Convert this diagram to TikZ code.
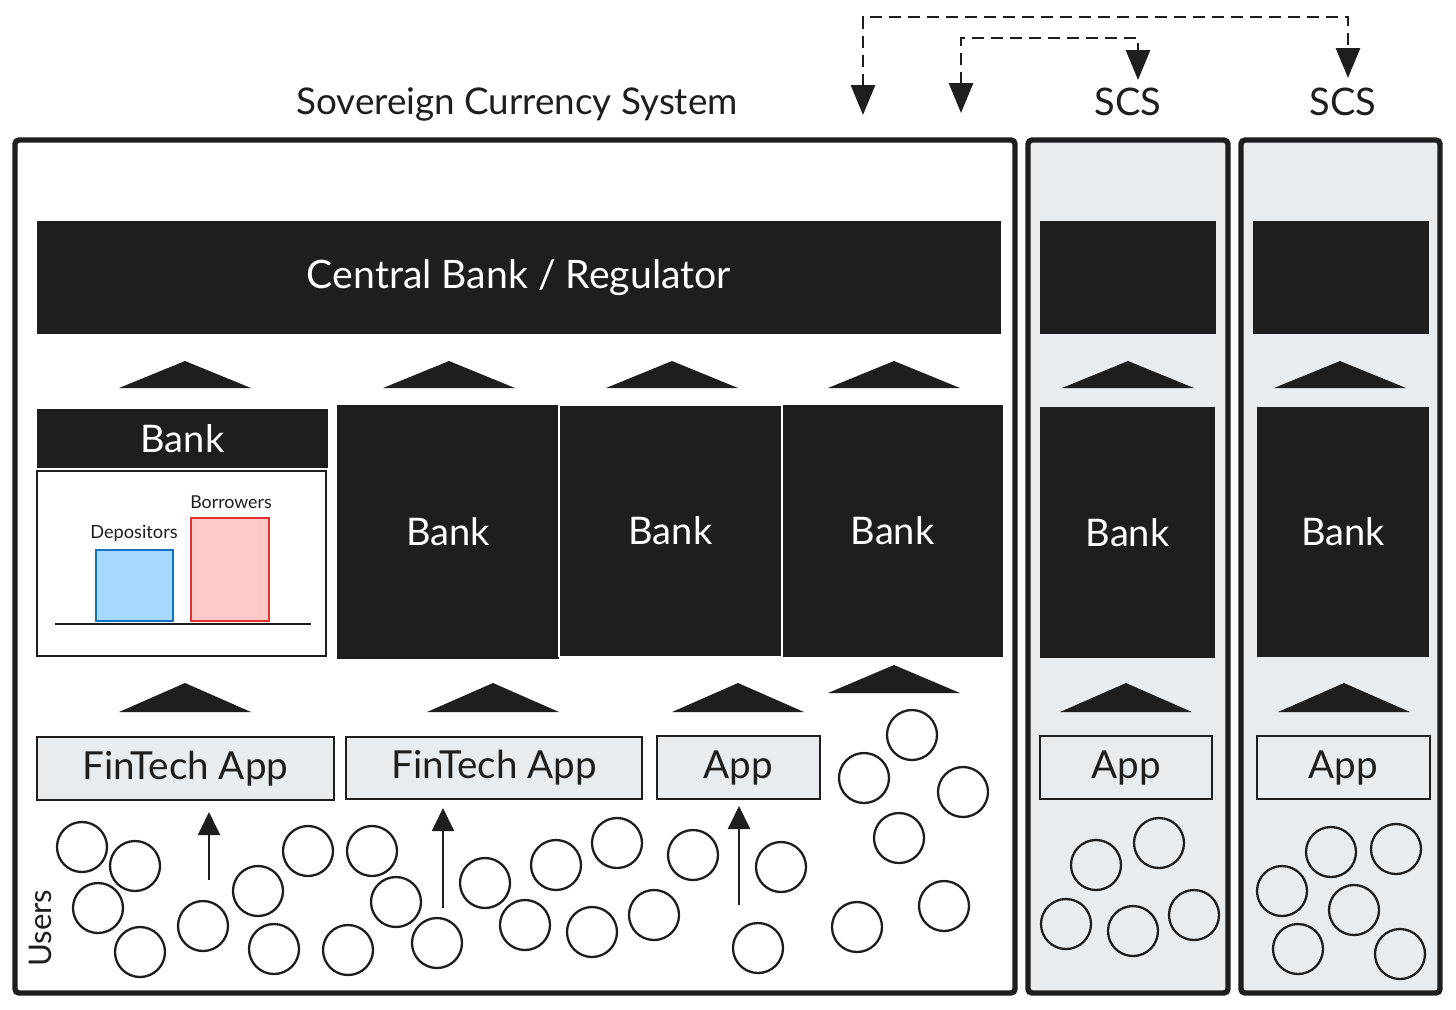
\documentclass[tikz,border=0pt]{standalone}
\usepackage{fontspec}
\setmainfont{Lato}
\usetikzlibrary{arrows.meta}
\definecolor{ink}{HTML}{1E1E1E}
\definecolor{panel}{HTML}{E9ECEF}
\definecolor{depfill}{HTML}{A5D8FF}
\definecolor{depline}{HTML}{1971C2}
\definecolor{borfill}{HTML}{FFC9C9}
\definecolor{borline}{HTML}{E03131}
\newcommand\uptri[3]{\fill[ink] (#1-66,#3) -- (#1,#2) -- (#1+66,#3) -- cycle;}
\begin{document}
\begin{tikzpicture}[x=0.5pt,y=-0.5pt,
  frame/.style={draw=ink, line width=2.7pt, rounded corners=2pt, inner sep=0pt},
  darkbox/.style={fill=ink, draw=ink, line width=0.6pt, inner sep=0pt, text=white, font=\fontsize{19}{22}\selectfont},
  appbox/.style={fill=panel, draw=ink, line width=0.8pt, inner sep=0pt, text=ink, font=\fontsize{19.3}{22}\selectfont},
  user/.style={circle, draw=ink, line width=1.15pt, minimum size=25pt, inner sep=0pt},
  lbl/.style={text=ink, inner sep=0pt},
  dasharrow/.style={draw=ink, line width=1.4pt, dash pattern=on 6pt off 3.5pt,
     {Triangle[width=12pt,length=15pt]}-{Triangle[width=12pt,length=15pt]}},
  uparrow/.style={draw=ink, line width=1pt, -{Triangle[width=11pt,length=11.5pt]}}
]
\useasboundingbox[fill=white] (0,0) rectangle (1456,1009);

% frames
\node[frame, fill=white, minimum width=500pt, minimum height=426.5pt] (main) at (515,566.5) {};
\node[frame, fill=panel, minimum width=100pt, minimum height=426.5pt] (scsA) at (1128,566.5) {};
\node[frame, fill=panel, minimum width=99.5pt, minimum height=426.5pt] (scsB) at (1340.5,566.5) {};

% titles
\node[lbl, font=\fontsize{18.4}{21}\selectfont] (title) at (517,104) {Sovereign Currency System};
\node[lbl, font=\fontsize{19}{22}\selectfont] (scsAt) at (1128,102) {SCS};
\node[lbl, font=\fontsize{19}{22}\selectfont] (scsBt) at (1343,102) {SCS};

% dashed links
\coordinate (dLa) at (863,115);
\coordinate (dRa) at (1348,78);
\coordinate (dLb) at (961,113);
\coordinate (dRb) at (1138,80);
\draw[dasharrow] (dLa) -- ++(0,-98) -| (dRa);
\draw[dasharrow] (dLb) -- ++(0,-75) -| (dRb);

% central bank / regulators
\node[darkbox, minimum width=481.5pt, minimum height=55.5pt, font=\fontsize{19.6}{23}\selectfont] (cb) at (519,277.5) {Central Bank / Regulator};
\node[darkbox, minimum width=87pt, minimum height=55.5pt] (cbA) at (1128,277.5) {};
\node[darkbox, minimum width=87pt, minimum height=55.5pt] (cbB) at (1341,277.5) {};

% triangles row 1
\uptri{185}{361}{388}
\uptri{449}{361}{388}
\uptri{672}{361}{388}
\uptri{894}{361}{388}
\uptri{1128}{361}{388}
\uptri{1340}{361}{388}

% banks
\node[darkbox, minimum width=144.5pt, minimum height=28.5pt] (bank1) at (182.5,438.5) {Bank};
\node[draw=ink, fill=white, line width=0.8pt, inner sep=0pt, minimum width=144.5pt, minimum height=92.5pt] (bank1d) at (181.5,563.5) {};
\node[darkbox, minimum width=110pt, minimum height=126pt] (bank2) at (448,532) {Bank};
\node[darkbox, minimum width=109.5pt, minimum height=125pt] (bank4) at (892.5,531) {Bank};
\node[darkbox, draw=white, line width=0.7pt, minimum width=111.5pt, minimum height=125.5pt] (bank3) at (670.5,531) {Bank};
\node[darkbox, minimum width=86.5pt, minimum height=124.5pt] (bank5) at (1127.5,532.5) {Bank};
\node[darkbox, minimum width=85pt, minimum height=124pt] (bank6) at (1343,532) {Bank};

% depositors / borrowers
\node[fill=depfill, draw=depline, line width=0.8pt, inner sep=0pt, minimum width=38.5pt, minimum height=35.5pt] (dep) at (134.5,585.5) {};
\node[fill=borfill, draw=borline, line width=0.8pt, inner sep=0pt, minimum width=39pt, minimum height=51.5pt] (bor) at (230,569.5) {};
\node[lbl, font=\fontsize{9.1}{11}\selectfont] (depl) at (134,533) {Depositors};
\node[lbl, font=\fontsize{8.9}{11}\selectfont] (borl) at (231,502) {Borrowers};
\coordinate (bl1) at (55,624);
\coordinate (bl2) at (311,624);
\draw[ink, line width=0.9pt] (bl1) -- (bl2);

% triangles row 2
\uptri{185}{683}{712}
\uptri{493}{683}{712}
\uptri{738}{683}{712}
\uptri{894}{665}{693}
\uptri{1126}{683}{712}
\uptri{1344}{683}{712}

% apps
\node[appbox, minimum width=148.5pt, minimum height=31.5pt] (app1) at (185.5,768.5) {FinTech App};
\node[appbox, minimum width=148pt, minimum height=31pt] (app2) at (494,768) {FinTech App};
\node[appbox, minimum width=81.5pt, minimum height=31.5pt] (app3) at (738.5,767.5) {App};
\node[appbox, minimum width=86pt, minimum height=31.5pt] (app4) at (1126,767.5) {App};
\node[appbox, minimum width=86.5pt, minimum height=31.5pt] (app5) at (1343.5,767.5) {App};

% up arrows
\coordinate (s1) at (209,880); \coordinate (t1) at (209,812);
\coordinate (s2) at (443,908); \coordinate (t2) at (443,808);
\coordinate (s3) at (739,905); \coordinate (t3) at (739,806);
\draw[uparrow] (s1) -- (t1);
\draw[uparrow] (s2) -- (t2);
\draw[uparrow] (s3) -- (t3);

% users
\node[lbl, rotate=90, font=\fontsize{15.6}{18}\selectfont] (users) at (40,928) {Users};
\foreach \n/\cx/\cy in {
  1/82/847, 2/135/866, 3/98/908, 4/140/952, 5/203/926, 6/258/891,
  7/308/851, 8/372/851, 9/396/902, 10/274/949, 11/348/950, 12/437/943,
  13/485/883, 14/556/865, 15/617/843, 16/525/925, 17/592/932, 18/654/915,
  19/693/855, 20/781/867, 21/758/948, 22/912/735, 23/864/778, 24/963/792,
  25/899/838, 26/857/927, 27/944/906,
  28/1096/865, 29/1159/843, 30/1066/924, 31/1133/931, 32/1194/915,
  33/1331/852, 34/1396/849, 35/1282/891, 36/1354/910, 37/1298/949, 38/1400/954}
  {\node[user] (u\n) at (\cx,\cy) {};}
\end{tikzpicture}
\end{document}
